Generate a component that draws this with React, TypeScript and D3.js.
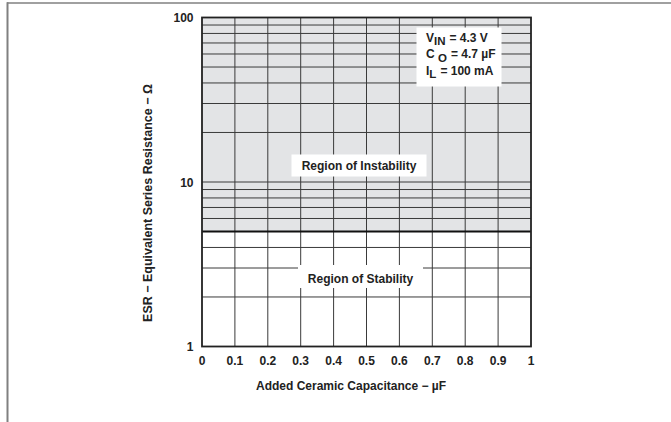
import React from "react";
import * as d3 from "d3";

// ---- data ----
const xTickValues = [0, 0.1, 0.2, 0.3, 0.4, 0.5, 0.6, 0.7, 0.8, 0.9, 1];
const xTickLabels = ["0", "0.1", "0.2", "0.3", "0.4", "0.5", "0.6", "0.7", "0.8", "0.9", "1"];
const yTickValues = [1, 10, 100];
const yTickLabels = ["1", "10", "100"];
const yMinorGrid = [2, 3, 4, 5, 6, 7, 8, 9, 20, 30, 40, 50, 60, 70, 80, 90];
const xDomain = [0, 1];
const yDomain = [1, 100];
const stabilityBoundary = 5; // ESR (Ω) boundary between stable / unstable regions
const xTitle = "Added Ceramic Capacitance − µF";
const yTitle = "ESR − Equivalent Series Resistance − Ω";
const instabilityLabel = "Region of Instability";
const stabilityLabel = "Region of Stability";
const conditions = [
  { main: "V", sub: "IN", rest: "= 4.3 V" },
  { main: "C ", sub: "O", rest: "= 4.7 µF" },
  { main: "I", sub: "L", rest: "= 100 mA" },
];

const W = 671;
const H = 422;
const M = { left: 202, right: 531, top: 17.5, bottom: 346.5 };
const FONT = "'Liberation Sans', Arial, Helvetica, sans-serif";

export default function App() {
  const x = d3.scaleLinear().domain(xDomain).range([M.left, M.right]);
  const y = d3.scaleLog().domain(yDomain).range([M.bottom, M.top]);
  const yb = y(stabilityBoundary);
  const gridColor = "#3a3a3a";

  return (
    <svg
      width={W}
      height={H}
      style={{ position: "absolute", left: 0, top: 0, background: "#fff" }}
      fontFamily={FONT}
      fontWeight="bold"
    >
      {/* page frame */}
      <line x1={7} x2={W} y1={3} y2={3} stroke="#808080" strokeWidth={1.6} />
      <line x1={7.5} x2={7.5} y1={2.2} y2={H} stroke="#808080" strokeWidth={2} />

      {/* regions */}
      <rect x={x(0)} y={y(100)} width={x(1) - x(0)} height={yb - y(100)} fill="#e3e4e6" />
      <rect x={x(0)} y={yb} width={x(1) - x(0)} height={y(1) - yb} fill="#ffffff" />

      {/* horizontal grid */}
      {yMinorGrid.concat([10]).map((v) => (
        <line key={"h" + v} x1={x(0)} x2={x(1)} y1={y(v)} y2={y(v)} stroke={gridColor} strokeWidth={1} />
      ))}
      {/* vertical grid */}
      {xTickValues.slice(1, -1).map((v) => (
        <line key={"v" + v} x1={x(v)} x2={x(v)} y1={y(100)} y2={y(1)} stroke={gridColor} strokeWidth={1} />
      ))}

      {/* boundary */}
      <line x1={x(0)} x2={x(1)} y1={yb} y2={yb} stroke="#111" strokeWidth={2.2} />

      {/* plot frame */}
      <rect x={x(0)} y={y(100)} width={x(1) - x(0)} height={y(1) - y(100)} fill="none" stroke="#222" strokeWidth={1.8} />

      {/* region labels */}
      <rect x={291.5} y={154.5} width={135} height={22} fill="#fff" />
      <text x={359} y={170} fontSize={12} textAnchor="middle" fill="#222">
        {instabilityLabel}
      </text>
      <rect x={298} y={265} width={125} height={23} fill="#fff" />
      <text x={360.5} y={282.5} fontSize={12} textAnchor="middle" fill="#222">
        {stabilityLabel}
      </text>

      {/* conditions box */}
      <rect x={416.5} y={27.5} width={85} height={59} fill="#fff" />
      <g fontSize={12} fill="#222">
        {conditions.map((c, i) => (
          <text key={"c" + i} x={426} y={41.5 + i * 16.7}>
            {c.main}
            <tspan dy={3.5} fontSize={11.5}>{c.sub}</tspan>
            <tspan dy={-3.5} dx={4}>{c.rest}</tspan>
          </text>
        ))}
      </g>

      {/* y tick labels */}
      {yTickValues.map((v, i) => (
        <text key={"yt" + v} x={193.5} y={y(v) + 4.5} fontSize={12} textAnchor="end" fill="#222">
          {yTickLabels[i]}
        </text>
      ))}
      {/* x tick labels */}
      {xTickValues.map((v, i) => (
        <text key={"xt" + v} x={x(v)} y={365} fontSize={12} textAnchor="middle" fill="#222">
          {xTickLabels[i]}
        </text>
      ))}

      {/* axis titles */}
      <text x={351} y={390} fontSize={12} textAnchor="middle" fill="#222">
        {xTitle}
      </text>
      <text
        transform={`translate(152,203) rotate(-90)`}
        fontSize={12.5}
        textAnchor="middle"
        fill="#222"
      >
        {yTitle}
      </text>
    </svg>
  );
}
